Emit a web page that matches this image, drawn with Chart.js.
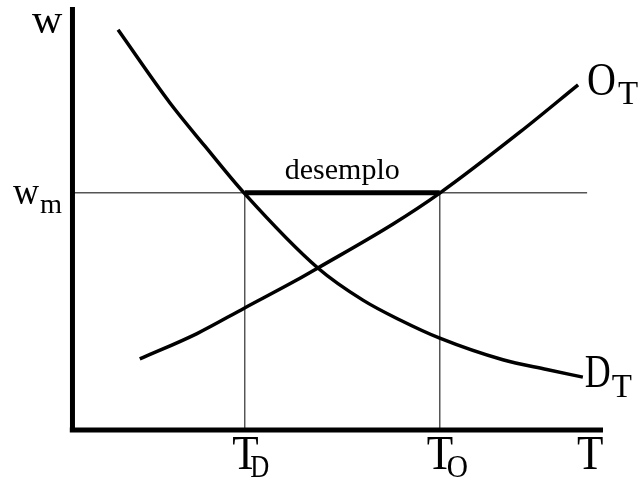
<!DOCTYPE html>
<html>
<head>
<meta charset="utf-8">
<script src="https://cdn.jsdelivr.net/npm/chart.js@4"></script>
<style>
  html, body { margin: 0; padding: 0; background: #fff; }
  #wrap { width: 642px; height: 483px; }
</style>
</head>
<body>
<div id="wrap"><canvas id="chart" width="642" height="483"></canvas></div>
<script>
// quantity of labour (T) on x, wage (w) on y, both in 0..100 units
const demandX = [8.5, 18.3, 24.9, 32.3, 46.2, 54.7, 61.7, 69.2, 81.1, 89.4, 96.2];
const demandY = [94.6, 77.3, 67.1, 56.0, 38.3, 30.7, 26.0, 21.7, 16.6, 14.3, 12.5];
const supplyX = [12.6, 23.4, 32.3, 42.3, 46.2, 60.4, 69.2, 84.3, 95.3];
const supplyY = [16.8, 22.8, 28.8, 35.5, 38.3, 48.7, 56.0, 70.4, 81.6];
const minWage = 56.1;
const qDemand = 32.4;  // T_D
const qSupply = 69.2;  // T_O
const wageLineEnd = 97;

const toPoints = (xs, ys) => xs.map((x, i) => ({ x: x, y: ys[i] }));

const serif = '"Liberation Serif", "DejaVu Serif", serif';

function drawText(ctx, txt, x, y, size, sx) {
  ctx.save();
  ctx.font = size + 'px ' + serif;
  ctx.translate(x, y);
  ctx.scale(sx || 1, 1);
  ctx.fillText(txt, 0, 0);
  ctx.restore();
}

// labels placed against the scales
const labelsPlugin = {
  id: 'labels',
  afterDatasetsDraw(chart) {
    const ctx = chart.ctx;
    const xs = chart.scales.x, ys = chart.scales.y;
    ctx.save();
    ctx.fillStyle = '#000';
    ctx.textBaseline = 'alphabetic';
    ctx.textAlign = 'left';

    // y axis name
    drawText(ctx, 'w', 32, 33, 42, 1);

    // w_m
    const wy = ys.getPixelForValue(minWage);
    drawText(ctx, 'w', 13, wy + 11, 38, 0.95);
    drawText(ctx, 'm', 40, wy + 20, 27, 1.05);

    // x ticks
    const base = chart.chartArea.bottom + 39;
    const tdx = xs.getPixelForValue(qDemand);
    drawText(ctx, 'T', tdx - 12.5, base, 48, 0.9);
    drawText(ctx, 'D', tdx + 5.5, base + 8, 31, 0.85);
    const tox = xs.getPixelForValue(qSupply);
    drawText(ctx, 'T', tox - 13, base, 48, 0.9);
    drawText(ctx, 'O', tox + 7, base + 8, 31, 0.95);
    drawText(ctx, 'T', 577, base, 48, 0.9);

    // curve names
    const lastS = supplyX.length - 1;
    const ox = xs.getPixelForValue(supplyX[lastS]);
    const oy = ys.getPixelForValue(supplyY[lastS]);
    drawText(ctx, 'O', ox + 9, oy + 10, 46, 0.87);
    drawText(ctx, 'T', ox + 40, oy + 19, 33, 1);

    const lastD = demandX.length - 1;
    const dx = xs.getPixelForValue(demandX[lastD]);
    const dy = ys.getPixelForValue(demandY[lastD]);
    drawText(ctx, 'D', dx + 2, dy + 10, 46, 0.78);
    drawText(ctx, 'T', dx + 29, dy + 20, 33, 1);

    // unemployment label
    ctx.textAlign = 'center';
    const mid = xs.getPixelForValue((qDemand + qSupply) / 2);
    ctx.font = '30px ' + serif;
    ctx.fillText('desemplo', mid, wy - 14);
    ctx.restore();
  }
};

const thin = { borderColor: '#555', borderWidth: 1.5 };
const curve = { borderColor: '#000', borderWidth: 3.5, cubicInterpolationMode: 'monotone' };

// note: dataset 0 is painted last (on top)
new Chart(document.getElementById('chart'), {
  type: 'line',
  data: {
    datasets: [
      { data: [{ x: qDemand, y: minWage }, { x: qSupply, y: minWage }], borderColor: '#000', borderWidth: 5 },
      { data: toPoints(demandX, demandY), ...curve },
      { data: toPoints(supplyX, supplyY), ...curve },
      // axes
      { data: [{ x: -0.6, y: 0 }, { x: 100, y: 0 }], borderColor: '#000', borderWidth: 5 },
      { data: [{ x: -0.1, y: -0.5 }, { x: -0.1, y: 100 }], borderColor: '#000', borderWidth: 5 },
      { data: [{ x: 0, y: minWage }, { x: wageLineEnd, y: minWage }], ...thin },
      { data: [{ x: qDemand, y: 0 }, { x: qDemand, y: minWage }], ...thin },
      { data: [{ x: qSupply, y: 0 }, { x: qSupply, y: minWage }], ...thin }
    ]
  },
  options: {
    responsive: false,
    animation: false,
    layout: { padding: { left: 73, right: 39, top: 7, bottom: 53 } },
    elements: { point: { radius: 0 }, line: { borderCapStyle: 'butt', fill: false } },
    datasets: { line: { clip: 12 } },
    scales: {
      x: { type: 'linear', min: 0, max: 100, display: false },
      y: { type: 'linear', min: 0, max: 100, display: false }
    },
    plugins: { legend: { display: false }, tooltip: { enabled: false } }
  },
  plugins: [labelsPlugin]
});
</script>
</body>
</html>
